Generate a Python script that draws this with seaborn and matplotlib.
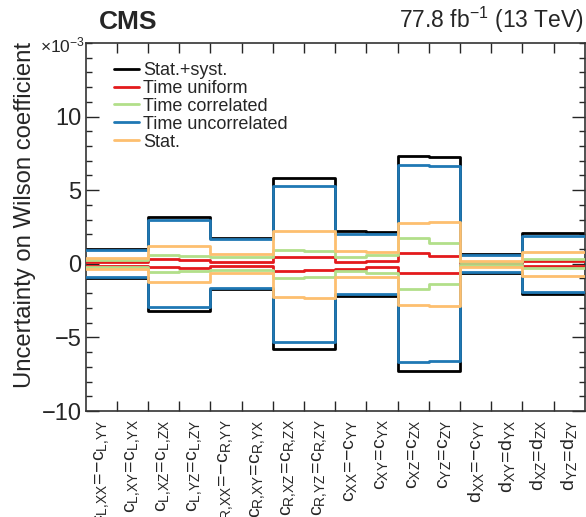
import matplotlib
matplotlib.use("Agg")
import matplotlib.pyplot as plt
from matplotlib.lines import Line2D
import seaborn as sns
import pandas as pd
import numpy as np

# bin labels (16 Wilson coefficients)
labels = [
    r'$c_{L{,}XX}\!=\!{-}c_{L{,}YY}$', r'$c_{L{,}XY}\!=\!c_{L{,}YX}$',
    r'$c_{L{,}XZ}\!=\!c_{L{,}ZX}$', r'$c_{L{,}YZ}\!=\!c_{L{,}ZY}$',
    r'$c_{R{,}XX}\!=\!{-}c_{R{,}YY}$', r'$c_{R{,}XY}\!=\!c_{R{,}YX}$',
    r'$c_{R{,}XZ}\!=\!c_{R{,}ZX}$', r'$c_{R{,}YZ}\!=\!c_{R{,}ZY}$',
    r'$c_{XX}\!=\!{-}c_{YY}$', r'$c_{XY}\!=\!c_{YX}$',
    r'$c_{XZ}\!=\!c_{ZX}$', r'$c_{YZ}\!=\!c_{ZY}$',
    r'$d_{XX}\!=\!{-}c_{YY}$', r'$d_{XY}\!=\!d_{YX}$',
    r'$d_{XZ}\!=\!d_{ZX}$', r'$d_{YZ}\!=\!d_{ZY}$',
]

# uncertainties (x 10^-3), upward / downward variations
total_up = [1.00, 1.00, 3.20, 3.20, 1.72, 1.72, 5.80, 5.80, 2.20, 2.18, 7.32, 7.25, 0.66, 0.66, 2.07, 2.07]
total_dn = [-0.98, -0.98, -3.22, -3.22, -1.70, -1.70, -5.80, -5.80, -2.22, -2.22, -7.30, -7.30, -0.64, -0.64, -2.07, -2.07]
uniform_up = [0.12, 0.12, 0.33, 0.26, 0.15, 0.15, 0.43, 0.43, 0.14, 0.20, 0.70, 0.55, 0.05, 0.05, 0.16, 0.16]
uniform_dn = [-0.12, -0.12, -0.24, -0.26, -0.12, -0.15, -0.52, -0.45, -0.38, -0.25, -0.64, -0.60, -0.05, -0.05, -0.15, -0.15]
corr_up = [0.25, 0.25, 0.58, 0.54, 0.48, 0.45, 0.96, 0.87, 0.43, 0.57, 1.75, 1.39, 0.10, 0.10, 0.32, 0.30]
corr_dn = [-0.25, -0.25, -0.56, -0.50, -0.41, -0.40, -0.98, -0.89, -0.52, -0.64, -1.73, -1.39, -0.10, -0.10, -0.32, -0.30]
uncorr_up = [0.93, 0.93, 3.00, 3.00, 1.65, 1.65, 5.30, 5.30, 2.05, 2.05, 6.69, 6.62, 0.60, 0.60, 1.91, 1.91]
uncorr_dn = [-0.93, -0.93, -2.95, -2.95, -1.63, -1.63, -5.30, -5.30, -2.05, -2.05, -6.66, -6.60, -0.58, -0.58, -1.91, -1.91]
stat_up = [0.38, 0.38, 1.22, 1.20, 0.68, 0.66, 2.20, 2.25, 0.84, 0.81, 2.78, 2.85, 0.20, 0.20, 0.77, 0.77]
stat_dn = [-0.36, -0.36, -1.22, -1.24, -0.64, -0.65, -2.23, -2.30, -0.88, -0.87, -2.80, -2.87, -0.20, -0.20, -0.82, -0.82]

series_names = ["Stat.+syst.", "Time uniform", "Time correlated", "Time uncorrelated", "Stat."]

sns.set_style("ticks")
plt.rcParams['font.family'] = ['Liberation Sans', 'DejaVu Sans']
plt.rcParams['mathtext.default'] = 'regular'

pal = sns.color_palette("Paired")
colors = ["black", pal[5], pal[2], pal[1], pal[6]]
series = [(total_up, total_dn), (uniform_up, uniform_dn), (corr_up, corr_dn),
          (uncorr_up, uncorr_dn), (stat_up, stat_dn)]

nbins = len(labels)
edges = np.arange(nbins + 1)
centers = edges[:-1] + 0.5

fig = plt.figure(figsize=(5.86, 5.17), dpi=100)
ax = fig.add_axes([0.146, 0.205, 0.852, 0.712])

for i, (up, dn) in enumerate(series):
    for vals in (up, dn):
        d = pd.DataFrame({"edge": edges, "val": list(vals) + [vals[-1]]})
        sns.lineplot(data=d, x="edge", y="val", drawstyle="steps-post", color=colors[i],
                     linewidth=2, ax=ax, zorder=2 + i)

ax.set_xlim(0, nbins)
ax.set_ylim(-10, 15)
ax.set_ylabel("")
ax.set_xlabel("")

# y ticks
ax.set_yticks([-10, -5, 0, 5, 10])
ax.set_yticklabels(["\u221210", "\u22125", "0", "5", "10"])
ax.set_yticks(np.arange(-10, 16, 1), minor=True)
ax.tick_params(axis='y', which='major', direction='in', length=9.5, width=1,
               labelsize=17, right=True, pad=3)
ax.tick_params(axis='y', which='minor', direction='in', length=4.5, width=1, right=True)

# x ticks: labels at bin centres, tick marks at bin edges
ax.set_xticks(centers)
ax.set_xticklabels(labels, rotation=90, va='top', ha='center')
ax.set_xticks(edges[1:-1], minor=True)
ax.tick_params(axis='x', which='major', length=0, labelsize=14, pad=6)
ax.tick_params(axis='x', which='minor', direction='in', length=7, width=1, top=True)

for sp in ax.spines.values():
    sp.set_visible(True)
    sp.set_linewidth(1.2)
    sp.set_color("#333333")

fig.text(25 / 586, 1 - 42 / 517, "Uncertainty on Wilson coefficient", rotation=90,
         ha='center', va='top', fontsize=17.2)
fig.text(85 / 586, 1 - 52 / 517, r'$\times10^{-3}$', ha='right', va='baseline', fontsize=12.5)
fig.text(99 / 586, 1 - 29 / 517, "CMS", fontweight='bold', fontsize=19, ha='left', va='baseline')
fig.text(584 / 586, 1 - 28 / 517, r'77.8 fb$^{-1}$ (13 TeV)', fontsize=16.5, ha='right', va='baseline')

handles = [Line2D([], [], color=c, linewidth=2) for c in colors]
ax.legend(handles, series_names, loc='upper left', bbox_to_anchor=(114 / 586, 1 - 62 / 517),
          bbox_transform=fig.transFigure, frameon=False, fontsize=13, handlelength=1.4,
          handletextpad=0.2, labelspacing=0.05, borderpad=0, borderaxespad=0)

fig.savefig("out.png", dpi=100)
